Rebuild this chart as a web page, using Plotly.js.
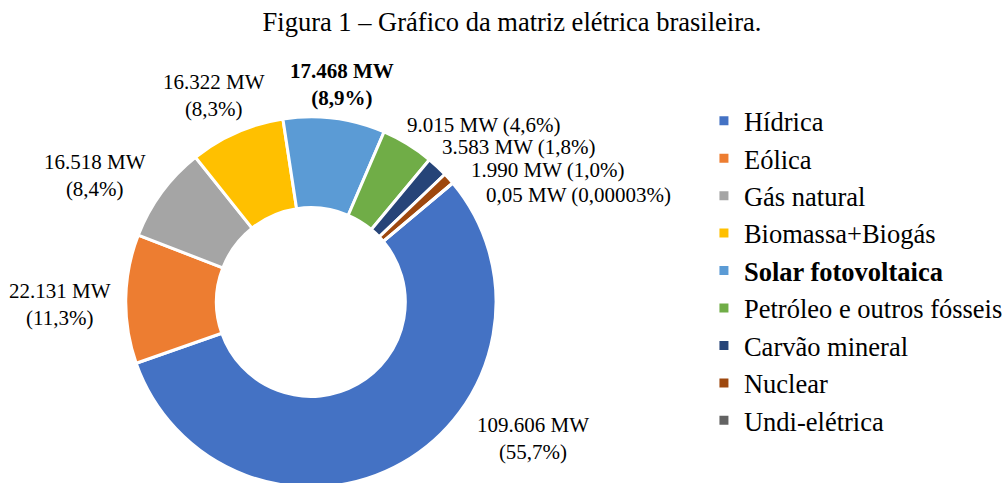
<!DOCTYPE html>
<html>
<head>
<meta charset="utf-8">
<script src="https://cdn.plot.ly/plotly-3.0.1.min.js"></script>
<style>
  html, body { margin: 0; padding: 0; overflow: hidden; background: #fff; }
</style>
</head>
<body>
<div id="plot"></div>
<script>
// matriz elétrica brasileira (MW)
const fontes = ["Hídrica", "Eólica", "Gás natural", "Biomassa+Biogás", "Solar fotovoltaica",
  "Petróleo e outros fósseis", "Carvão mineral", "Nuclear", "Undi-elétrica"];
const potencia = [109606, 22131, 16518, 16322, 17468, 9015, 3583, 1990, 0.05];
const percentual = ["55,7", "11,3", "8,4", "8,3", "8,9", "4,6", "1,8", "1,0", "0,00003"];
const cores = ["#4472C4", "#ED7D31", "#A5A5A5", "#FFC000", "#5B9BD5",
  "#70AD47", "#264478", "#9E480E", "#636363"];
const destaque = "Solar fotovoltaica";

const W = 1008, H = 492;
const px = (x) => x / W;
const py = (y) => 1 - y / H;

const fmtMW = (n) => {
  if (n >= 1000) return Math.round(n).toString().replace(/\B(?=(\d{3})+(?!\d))/g, ".");
  return String(n).replace(".", ",");
};

// label placement (center in px) and whether it wraps
const labelPos = [
  [538, 438, true], [61, 304, true], [96, 175, true], [216, 95, true], [345, 84, true],
  [489, 125, false], [524, 147, false], [553, 170, false], [584, 195, false]
];

const annotations = fontes.map((f, i) => {
  const [x, y, wrap] = labelPos[i];
  let txt = fmtMW(potencia[i]) + " MW" + (wrap ? "<br>" : " ") + "(" + percentual[i] + "%)";
  if (f === destaque) txt = "<b>" + txt + "</b>";
  return {
    text: txt, x: px(x), y: py(y), xref: "paper", yref: "paper",
    xanchor: "center", yanchor: "middle", showarrow: false,
    font: { family: "Liberation Serif", size: 21, color: "#000" }
  };
});

const trace = {
  type: "pie",
  labels: fontes.map(f => f === destaque ? "<b>" + f + "</b>" : f),
  values: potencia,
  sort: false,
  direction: "clockwise",
  rotation: 50,
  hole: 0.51,
  textinfo: "none",
  marker: { colors: cores, line: { color: "#fff", width: 3 } },
  domain: { x: [px(127), px(501)], y: [py(489), py(115)] }
};

const layout = {
  width: W,
  height: H,
  margin: { l: 0, r: 0, t: 0, b: 0 },
  paper_bgcolor: "#fff",
  font: { family: "Liberation Serif", color: "#000" },
  title: {
    text: "Figura 1 – Gráfico da matriz elétrica brasileira.",
    font: { family: "Liberation Serif", size: 26.5, color: "#000" },
    x: px(512), xanchor: "center",
    y: 1 - 22 / H, yanchor: "middle", yref: "container"
  },
  showlegend: true,
  legend: {
    x: px(711), xanchor: "left",
    y: py(97), yanchor: "top",
    font: { family: "Liberation Serif", size: 26.5, color: "#000" },
    traceorder: "normal"
  },
  annotations: annotations
};

Plotly.newPlot("plot", [trace], layout, { displayModeBar: false });
</script>
</body>
</html>
